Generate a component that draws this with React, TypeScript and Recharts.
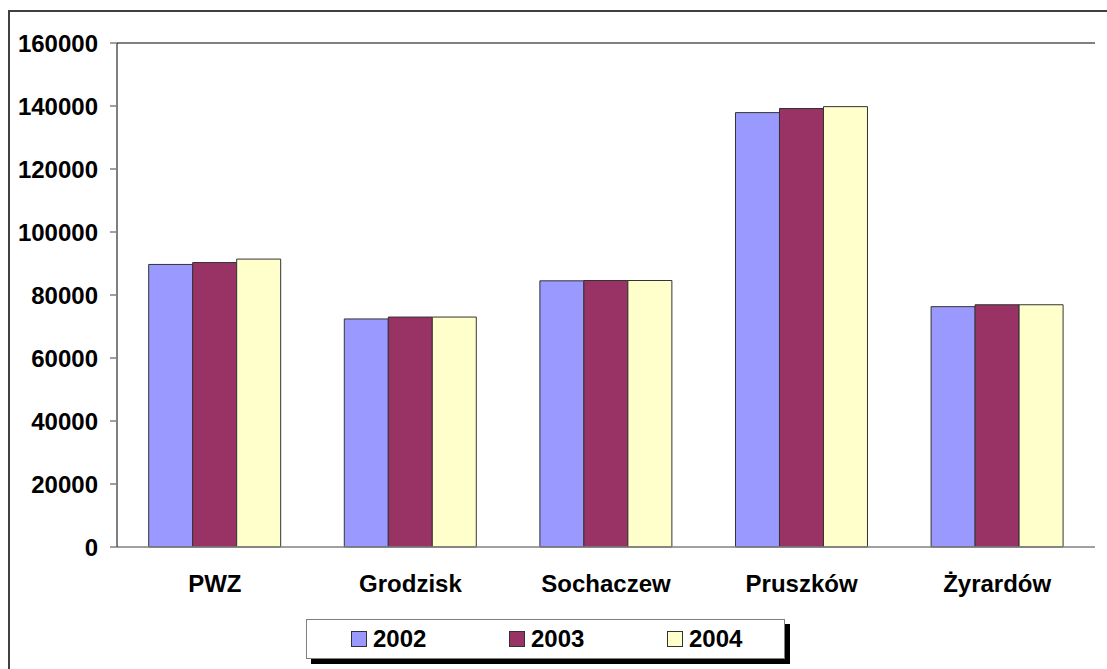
import { Bar, BarChart, ReferenceLine, XAxis, YAxis } from "recharts";

// ---------------------------------------------------------------------------
// Data
// ---------------------------------------------------------------------------

const categories = ["PWZ", "Grodzisk", "Sochaczew", "Pruszków", "Żyrardów"];
const values2002 = [89700, 72400, 84500, 137900, 76300];
const values2003 = [90300, 73000, 84600, 139200, 76900];
const values2004 = [91400, 73000, 84600, 139800, 76900];
const yTicks = [0, 20000, 40000, 60000, 80000, 100000, 120000, 140000, 160000];

const series = [
  { key: "y2002", label: "2002", color: "#9999FF", values: values2002 },
  { key: "y2003", label: "2003", color: "#993366", values: values2003 },
  { key: "y2004", label: "2004", color: "#FFFFCC", values: values2004 },
];

const data = categories.map((name, i) => {
  const row: Record<string, string | number> = { name };
  series.forEach((s) => {
    row[s.key] = s.values[i];
  });
  return row;
});

const FONT = "'Liberation Sans', Arial, sans-serif";

// ---------------------------------------------------------------------------
// Legend
// ---------------------------------------------------------------------------

function LegendBox() {
  return (
    <div
      style={{
        position: "absolute",
        left: 296,
        top: 607,
        width: 479,
        height: 40,
        border: "1px solid #808080",
        background: "#fff",
        boxShadow: "5px 5px 0 #000",
        display: "flex",
        alignItems: "center",
        paddingLeft: 44,
        boxSizing: "border-box",
      }}
    >
      {series.map((s) => (
        <div
          key={s.key}
          style={{
            width: 158,
            flexShrink: 0,
            display: "flex",
            alignItems: "center",
            gap: 6,
          }}
        >
          <div
            style={{
              width: 14,
              height: 14,
              background: s.color,
              border: "1px solid #333",
            }}
          />
          <span
            style={{
              fontFamily: FONT,
              fontWeight: "bold",
              fontSize: 24,
              color: "#000",
              lineHeight: 1,
            }}
          >
            {s.label}
          </span>
        </div>
      ))}
    </div>
  );
}

// ---------------------------------------------------------------------------
// Chart
// ---------------------------------------------------------------------------

export default function App() {
  return (
    <>
      <style>{`body { margin: 8px 0 0 8px; overflow: hidden; }`}</style>
      <div
        style={{
          position: "relative",
          marginTop: 2,
          width: 1097,
          height: 657,
          borderTop: "2px solid #404040",
          borderLeft: "2px solid #404040",
          background: "#fff",
        }}
      >
        <BarChart
          width={1091}
          height={649}
          data={data}
          barGap={0}
          barCategoryGap="16.2%"
          margin={{ top: 31, right: 6, left: 0, bottom: 84 }}
        >
          <XAxis
            dataKey="name"
            height={30}
            axisLine={{ stroke: "#808080", strokeWidth: 1.5 }}
            tickLine={false}
            tickSize={6}
            tickMargin={22}
            interval={0}
            tick={{
              fill: "#000",
              fontSize: 24,
              fontWeight: "bold",
              fontFamily: FONT,
            }}
          />
          <YAxis
            width={107}
            domain={[0, 160000]}
            ticks={yTicks}
            interval={0}
            axisLine={{ stroke: "#000", strokeWidth: 1 }}
            tickLine={{ stroke: "#808080", strokeWidth: 1.5 }}
            tickSize={7}
            tickMargin={12}
            tick={{
              fill: "#000",
              fontSize: 24,
              fontWeight: "bold",
              fontFamily: FONT,
            }}
          />
          <YAxis
            yAxisId="right"
            orientation="right"
            width={0}
            tick={false}
            tickLine={false}
            axisLine={{ stroke: "#000", strokeWidth: 1.5 }}
          />
          <ReferenceLine y={160000} stroke="#808080" strokeWidth={2} />
          {series.map((s) => (
            <Bar
              key={s.key}
              dataKey={s.key}
              fill={s.color}
              stroke="#333"
              strokeWidth={1}
              isAnimationActive={false}
            />
          ))}
        </BarChart>
        <LegendBox />
      </div>
    </>
  );
}
